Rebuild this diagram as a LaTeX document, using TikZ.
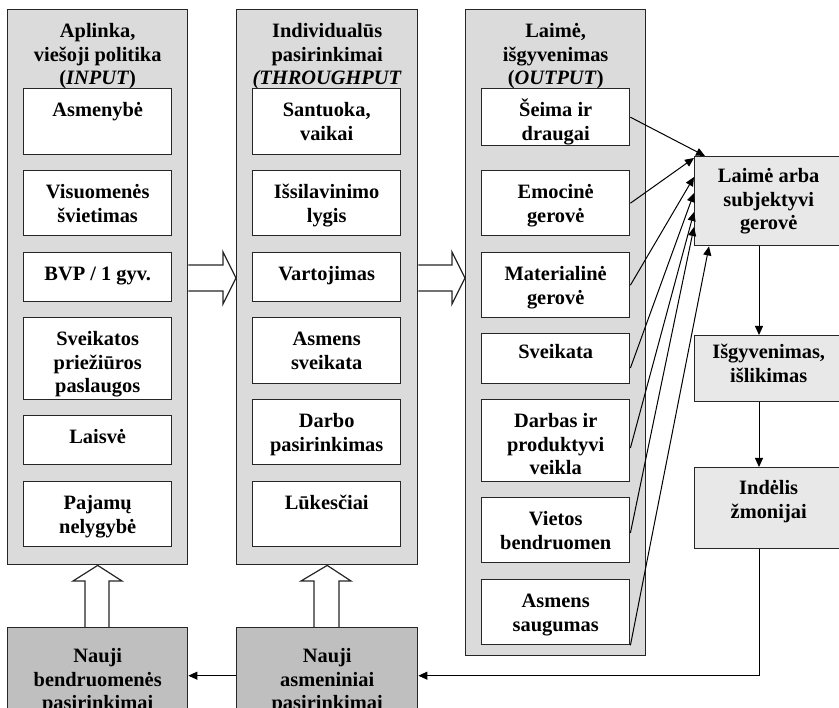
\documentclass[tikz,border=0pt]{standalone}
\usepackage{fontspec}
\setmainfont{Liberation Serif}
\usetikzlibrary{arrows.meta,calc}
\newcommand{\tb}[4]{\parbox[c][#2pt][t]{#1pt}{\centering\rule{0pt}{#3pt}#4}}
\begin{document}
\begin{tikzpicture}[x=1pt,y=-1pt,
  font=\fontsize{20.4}{23.5}\selectfont\bfseries,
  box/.style={draw=black!85,line width=1.4pt,inner sep=0pt,anchor=north west},
  colbox/.style={box,fill=gray!28},
  inbox/.style={box,fill=white},
  rbox/.style={box,fill=gray!18},
  nbox/.style={box,fill=gray!50},
  hollow/.style={draw=black!85,fill=white,line width=1.2pt,line join=miter},
  arr/.style={draw=black,line width=1pt,-{Triangle[length=9pt,width=8pt]}}]
\useasboundingbox (0,0) rectangle (839,708);
\clip (0,0) rectangle (839,708);
\coordinate (vx) at (759,0);
% columns
\node[colbox] (c1) at (7,9) {\tb{180}{555}{28}{Aplinka,\\viešoji politika\\(\textit{INPUT})}};
\node[colbox] (c2) at (236,9) {\tb{181}{555}{28}{Individualūs\\pasirinkimai\\\textit{(THROUGHPUT}}};
\node[colbox] (c3) at (465,9) {\tb{180}{646}{28}{Laimė,\\išgyvenimas\\(\textit{OUTPUT})}};
% column 1
\node[inbox] (a1) at (23,88)  {\tb{148}{66}{28}{Asmenybė}};
\node[inbox] (a2) at (23,170) {\tb{148}{65}{28}{Visuomenės\\švietimas}};
\node[inbox] (a3) at (23,252) {\tb{148}{49}{28}{BVP / 1 gyv.}};
\node[inbox] (a4) at (23,317) {\tb{148}{82}{28}{Sveikatos\\priežiūros\\paslaugos}};
\node[inbox] (a5) at (23,415) {\tb{148}{49}{28}{Laisvė}};
\node[inbox] (a6) at (23,481) {\tb{148}{65}{28}{Pajamų\\nelygybė}};
% column 2
\node[inbox] (b1) at (252,88)  {\tb{148}{66}{28}{Santuoka,\\vaikai}};
\node[inbox] (b2) at (252,170) {\tb{148}{65}{28}{Išsilavinimo\\lygis}};
\node[inbox] (b3) at (252,252) {\tb{148}{49}{28}{Vartojimas}};
\node[inbox] (b4) at (252,317) {\tb{148}{66}{28}{Asmens\\sveikata}};
\node[inbox] (b5) at (252,399) {\tb{148}{65}{28}{Darbo\\pasirinkimas}};
\node[inbox] (b6) at (252,481) {\tb{148}{65}{28}{Lūkesčiai}};
% column 3
\node[inbox] (s1) at (481,88)  {\tb{148}{57}{28}{Šeima ir\\draugai}};
\node[inbox] (s2) at (481,170) {\tb{148}{65}{28}{Emocinė\\gerovė}};
\node[inbox] (s3) at (481,252) {\tb{148}{65}{28}{Materialinė\\gerovė}};
\node[inbox] (s4) at (481,333) {\tb{148}{50}{25}{Sveikata}};
\node[inbox] (s5) at (481,399) {\tb{148}{82}{28}{Darbas ir\\produktyvi\\veikla}};
\node[inbox] (s6) at (481,497) {\tb{148}{65}{28}{Vietos\\bendruomen}};
\node[inbox] (s7) at (481,579) {\tb{148}{65}{28}{Asmens\\saugumas}};
% right boxes
\node[rbox] (laime) at (694,156) {\tb{148}{89}{26}{Laimė arba\\subjektyvi\\gerovė}};
\node[rbox] (isg) at (694,335) {\tb{148}{66}{23}{Išgyvenimas,\\išlikimas}};
\node[rbox] (ind) at (694,467) {\tb{148}{81}{27}{Indėlis\\žmonijai}};
% bottom boxes
\node[nbox] (nB) at (7,627) {\tb{180}{96}{35}{Nauji\\bendruomenės\\pasirinkimai}};
\node[nbox] (nA) at (236,627) {\tb{181}{96}{35}{Nauji\\asmeniniai\\pasirinkimai}};
% hollow arrows
\draw[hollow] (c1.east|-0,265) -- (223,265) -- (223,252) -- (c2.west|-0,278) -- (223,304) -- (223,291) -- (c1.east|-0,291);
\draw[hollow] (c2.east|-0,265) -- (452,265) -- (452,252) -- (c3.west|-0,278) -- (452,304) -- (452,291) -- (c2.east|-0,291);
\draw[hollow] (nB.north-|85,0) -- (85,581) -- (73,581) -- (c1.south) -- (122,581) -- (109,581) -- (nB.north-|109,0);
\draw[hollow] (nA.north-|314,0) -- (314,581) -- (301,581) -- (c2.south) -- (351,581) -- (339,581) -- (nA.north-|339,0);
% arrows to Laime
\draw[arr] (s1.east) -- ($(laime.north west)+(11,0)$);
\draw[arr] (s2.east) -- ($(laime.north west)+(0,2)$);
\draw[arr] (s3.east) -- ($(laime.north west)+(0,21)$);
\draw[arr] (s4.east|-0,368) -- ($(laime.north west)+(0,37)$);
\draw[arr] (s5.east|-0,448) -- ($(laime.north west)+(0,56)$);
\draw[arr] (s6.east|-0,533) -- ($(laime.north west)+(0,71)$);
\draw[arr] (s7.south east) -- ($(laime.south west)+(15,0)$);
% chain on the right
\draw[arr] (laime.south-|vx) -- (isg.north-|vx);
\draw[arr] (isg.south-|vx) -- (ind.north-|vx);
\draw[arr] (ind.south-|vx) |- (nA.east);
\draw[arr] (nA.west) -- (nB.east);
\end{tikzpicture}
\end{document}
